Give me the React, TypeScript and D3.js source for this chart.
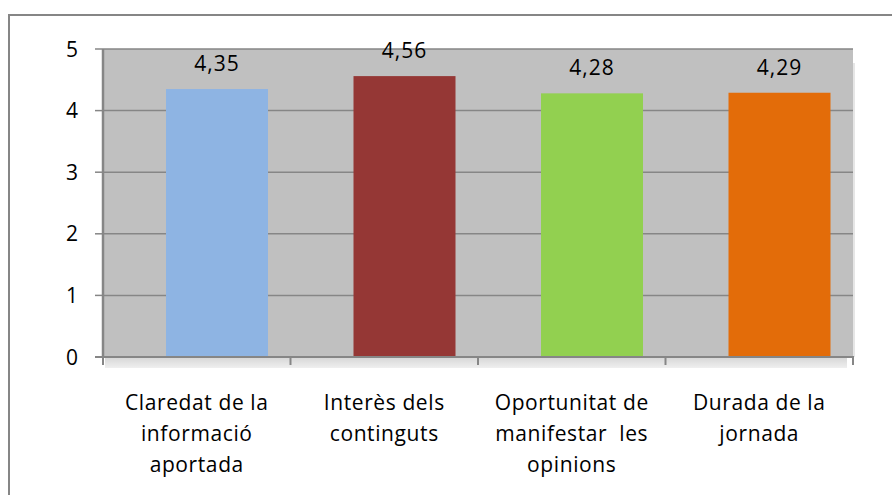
import React from 'react';
import * as d3 from 'd3';

const categories = [
  ['Claredat de la', 'informació', 'aportada'],
  ['Interès dels', 'continguts'],
  ['Oportunitat de', 'manifestar  les', 'opinions'],
  ['Durada de la', 'jornada'],
];
const values = [4.35, 4.56, 4.28, 4.29];
const colors = ['#8EB4E3', '#953735', '#92D050', '#E36C09'];
const yTicks = [0, 1, 2, 3, 4, 5];

const W = 892;
const H = 495;
const plot = { left: 103, right: 853, top: 49, bottom: 357 };
const font = '"Open Sans", "Liberation Sans", sans-serif';
const axisColor = '#868686';

const App = () => {
  const keys = categories.map((c, i) => String(i));
  const x = d3.scaleBand().domain(keys).range([plot.left, plot.right]).padding(0);
  const y = d3.scaleLinear().domain([0, 5]).range([plot.bottom, plot.top]);
  const bw = x.bandwidth();
  // bars sit right of centre in the original
  const barStart = bw * 0.336;
  const barWidth = bw * 0.544;
  const fmt = (v: number) => v.toFixed(2).replace('.', ',');

  return (
    <svg width={W} height={H} style={{ position: 'absolute', left: 0, top: 0, background: '#fff' }}>
      <defs>
        <linearGradient id="shadow" x1="0" y1="0" x2="0" y2="1">
          <stop offset="0%" stopColor="#d6d6d6" />
          <stop offset="100%" stopColor="#efefef" />
        </linearGradient>
      </defs>
      {/* chart frame */}
      <rect x={9} y={15} width={W + 20} height={H + 20} fill="none" stroke={axisColor} strokeWidth={2} />

      {/* plot area */}
      <rect x={plot.left} y={plot.top} width={plot.right - plot.left} height={plot.bottom - plot.top} fill="#C0C0C0" />
      <rect x={plot.left + 2} y={plot.bottom} width={plot.right - plot.left - 8} height={11} fill="url(#shadow)" />
      <rect x={plot.right} y={plot.top + 14} width={2} height={plot.bottom - plot.top - 14} fill="#e6e6e6" />

      {yTicks.map(t => (
        <g key={t}>
          {t > 0 && (
            <line x1={plot.left} x2={plot.right} y1={y(t)} y2={y(t)} stroke={axisColor} strokeWidth={1.5} />
          )}
          <line x1={plot.left - 8} x2={plot.left} y1={y(t)} y2={y(t)} stroke={axisColor} strokeWidth={1.5} />
          <text x={78} y={y(t) + 7.5} textAnchor="end" fontFamily={font} fontSize={21} fill="#000">
            {t}
          </text>
        </g>
      ))}

      {keys.map((k, i) => (
        <g key={k}>
          <rect x={(x(k) as number) + barStart} y={y(values[i])} width={barWidth} height={y(0) - y(values[i])} fill={colors[i]} />
          <text
            x={(x(k) as number) + barStart + barWidth / 2}
            y={y(values[i]) - 18}
            textAnchor="middle"
            fontFamily={font}
            fontSize={21}
            letterSpacing={1}
            fill="#000"
          >
            {fmt(values[i])}
          </text>
        </g>
      ))}

      {/* axes */}
      <line x1={plot.left} x2={plot.left} y1={plot.top} y2={plot.bottom} stroke={axisColor} strokeWidth={2.5} />
      <line x1={plot.left - 8} x2={plot.right + 1} y1={plot.bottom} y2={plot.bottom} stroke={axisColor} strokeWidth={2} />
      {keys.concat(['end']).map((k, i) => {
        const xp = i < keys.length ? (x(k) as number) : plot.right;
        return <line key={k} x1={xp} x2={xp} y1={plot.bottom} y2={plot.bottom + 8} stroke={axisColor} strokeWidth={2} />;
      })}

      {categories.map((lines, i) => (
        <text
          key={i}
          textAnchor="middle"
          fontFamily={font}
          fontSize={21}
          letterSpacing={0.6}
          fill="#000"
          style={{ whiteSpace: 'pre' }}
        >
          {lines.map((ln, j) => (
            <tspan key={j} x={(x(String(i)) as number) + bw / 2} y={410 + j * 31}>
              {ln}
            </tspan>
          ))}
        </text>
      ))}
    </svg>
  );
};

export default App;
